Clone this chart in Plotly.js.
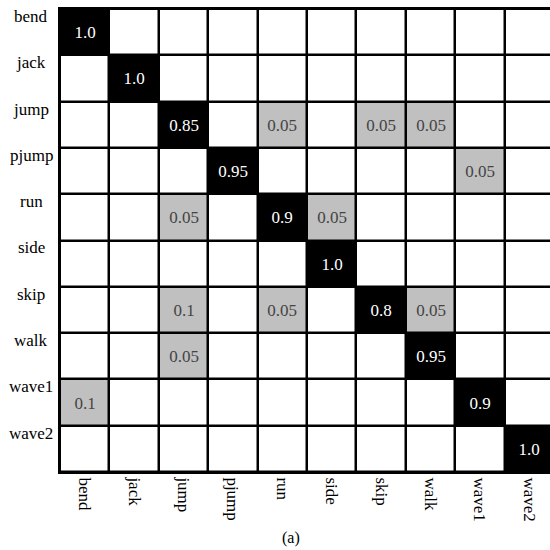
<!DOCTYPE html>
<html>
<head>
<meta charset="utf-8">
<script src="https://cdn.plot.ly/plotly-3.0.1.min.js"></script>
<style>
html, body { margin: 0; padding: 0; overflow: hidden; background: #fff; }
#chart { width: 556px; height: 550px; }
</style>
</head>
<body>
<div id="chart"></div>
<script>
var classes = ['bend', 'jack', 'jump', 'pjump', 'run', 'side', 'skip', 'walk', 'wave1', 'wave2'];
var rowBend  = [1.0, 0, 0, 0, 0, 0, 0, 0, 0, 0];
var rowJack  = [0, 1.0, 0, 0, 0, 0, 0, 0, 0, 0];
var rowJump  = [0, 0, 0.85, 0, 0.05, 0, 0.05, 0.05, 0, 0];
var rowPjump = [0, 0, 0, 0.95, 0, 0, 0, 0, 0.05, 0];
var rowRun   = [0, 0, 0.05, 0, 0.9, 0.05, 0, 0, 0, 0];
var rowSide  = [0, 0, 0, 0, 0, 1.0, 0, 0, 0, 0];
var rowSkip  = [0, 0, 0.1, 0, 0.05, 0, 0.8, 0.05, 0, 0];
var rowWalk  = [0, 0, 0.05, 0, 0, 0, 0, 0.95, 0, 0];
var rowWave1 = [0.1, 0, 0, 0, 0, 0, 0, 0, 0.9, 0];
var rowWave2 = [0, 0, 0, 0, 0, 0, 0, 0, 0, 1.0];
var caption = '(a)';

var z = [rowBend, rowJack, rowJump, rowPjump, rowRun, rowSide, rowSkip, rowWalk, rowWave1, rowWave2];
function fmt(v) {
  if (v === 0) return '';
  if (v === 1) return '1.0';
  return String(v);
}
var text = z.map(function (r) { return r.map(fmt); });

var serif = '"Liberation Serif", "Times New Roman", Times, serif';

var trace = {
  type: 'heatmap',
  x: classes,
  y: classes,
  z: z,
  text: text,
  texttemplate: '%{text}',
  textfont: { family: serif, size: 17 },
  zmin: 0,
  zmax: 1,
  colorscale: [[0, '#ffffff'], [0.01, '#ffffff'], [0.01, '#c0c0c0'], [0.5, '#c0c0c0'], [0.5, '#000000'], [1, '#000000']],
  showscale: false,
  xgap: 2.5,
  ygap: 2.5,
  hoverinfo: 'skip'
};

var n = classes.length;
var annotations = classes.map(function (c, i) {
  return {
    x: -0.0587, y: 1 - (i + 0.16) / n, xref: 'paper', yref: 'paper',
    text: c, showarrow: false, xanchor: 'center', yanchor: 'middle',
    font: { family: serif, size: 17, color: '#000' }
  };
});
annotations.push({
  x: 0.4676, y: -0.1425, xref: 'paper', yref: 'paper',
  text: caption, showarrow: false, xanchor: 'center', yanchor: 'middle',
  font: { family: serif, size: 16, color: '#000' }
});

var layout = {
  width: 556,
  height: 550,
  margin: { l: 60, r: 2, t: 9, b: 78 },
  font: { family: serif, color: '#000' },
  paper_bgcolor: '#ffffff',
  plot_bgcolor: '#000000',
  showlegend: false,
  xaxis: {
    type: 'category',
    range: [-0.5, n - 0.5],
    tickangle: 90,
    ticks: '',
    showgrid: false,
    zeroline: false,
    showline: true,
    mirror: true,
    linecolor: '#000',
    linewidth: 2,
    tickfont: { family: serif, size: 17, color: '#000' }
  },
  yaxis: {
    type: 'category',
    range: [n - 0.5, -0.5],
    showticklabels: false,
    ticks: '',
    showgrid: false,
    zeroline: false,
    showline: true,
    mirror: true,
    linecolor: '#000',
    linewidth: 2
  },
  annotations: annotations
};

Plotly.newPlot('chart', [trace], layout, { displayModeBar: false, staticPlot: true });
</script>
</body>
</html>
